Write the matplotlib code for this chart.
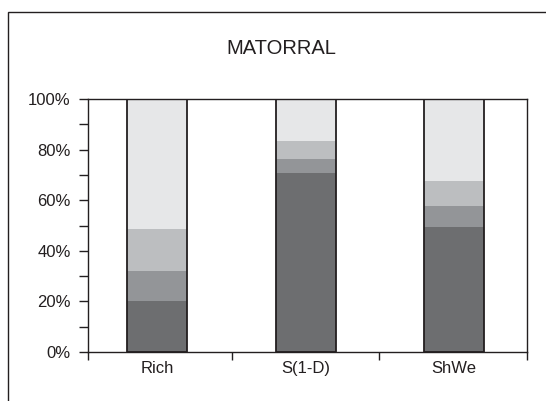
import matplotlib
matplotlib.use("Agg")
import matplotlib.pyplot as plt
from matplotlib.patches import Rectangle
from matplotlib.ticker import FixedLocator, FuncFormatter

plt.rcParams['font.family'] = ['Liberation Sans', 'DejaVu Sans']

categories = ["Rich", "S(1-D)", "ShWe"]
seg1 = [20.2, 70.8, 49.3]
seg2 = [11.9, 5.4, 8.4]
seg3 = [16.7, 7.1, 9.8]
seg4 = [51.2, 16.7, 32.5]
segments = [seg1, seg2, seg3, seg4]
colors = ["#6d6e70", "#939598", "#bcbec0", "#e6e7e8"]

fig = plt.figure(figsize=(5.46, 4.01), dpi=100)
fig.patches.append(Rectangle((8/546, -0.1), 1.2, 1.1 - 12/401 + 0.0, transform=fig.transFigure,
                             fill=False, edgecolor="#231f20", linewidth=1.0, clip_on=False))
ax = fig.add_axes([88/546, 49/401, 439/546, 253/401])

x = list(range(len(categories)))
w = 0.404
bottom = [0.0] * len(categories)
for seg, c in zip(segments, colors):
    ax.bar(x, seg, width=w, bottom=bottom, color=c, edgecolor="none", linewidth=0, zorder=2)
    bottom = [b + s for b, s in zip(bottom, seg)]
ax.bar(x, bottom, width=w, fill=False, edgecolor="#231f20", linewidth=1.3, zorder=3)

x0, x1 = -0.465, 2.49
ax.set_xlim(x0, x1)
ax.set_ylim(0, 100)

for s in ax.spines.values():
    s.set_color("#231f20")
    s.set_linewidth(1.0)

ax.yaxis.set_major_locator(FixedLocator([0, 20, 40, 60, 80, 100]))
ax.yaxis.set_minor_locator(FixedLocator([10, 30, 50, 70, 90]))
ax.yaxis.set_major_formatter(FuncFormatter(lambda v, p: f"{int(v)}%"))
ax.tick_params(axis="y", which="both", direction="out", length=6.5, width=1.0,
               color="#231f20", labelsize=12, pad=6, labelcolor="#231f20")

ax.xaxis.set_major_locator(FixedLocator([x0, 0.505, 1.495, x1]))
ax.xaxis.set_major_formatter(FuncFormatter(lambda v, p: ""))
ax.xaxis.set_minor_locator(FixedLocator(x))
ax.set_xticks(x, categories, minor=True)
ax.tick_params(axis="x", which="major", direction="out", length=5.5, width=1.0, color="#231f20")
ax.tick_params(axis="x", which="minor", length=0, labelsize=12, pad=6.5, labelcolor="#231f20")

fig.text(281/546, 1 - 48/401, "MATORRAL", ha="center", va="center", fontsize=14.5, color="#231f20")

fig.savefig("out.png", dpi=100)
